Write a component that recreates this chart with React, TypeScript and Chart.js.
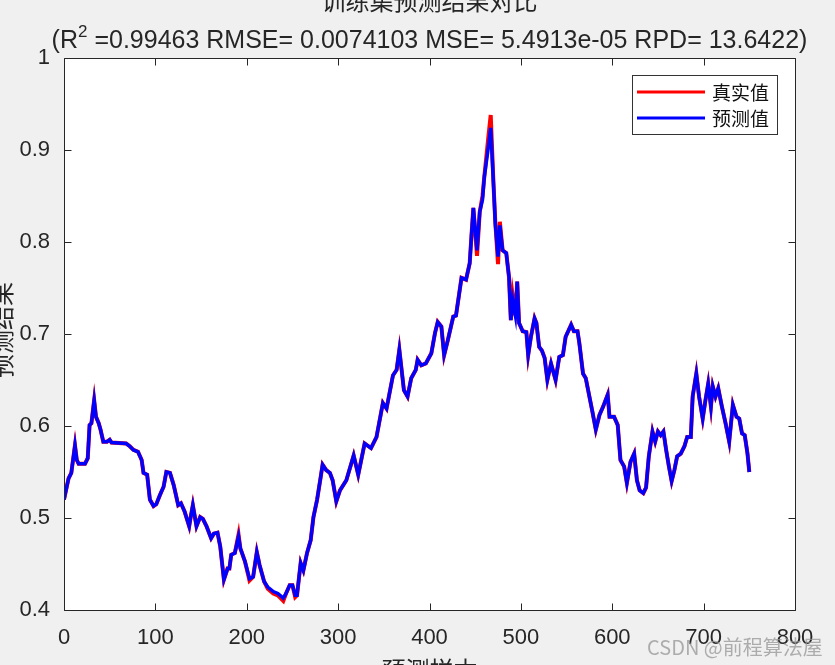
import React, { useEffect, useRef } from "react";
import { Chart, registerables } from "chart.js";

Chart.register(...registerables);

// ---- data ----
const sampleIndex = [
  0, 5, 8, 12, 14, 16, 23, 26, 28, 30, 33, 35, 38, 40, 43, 47, 50, 52, 68, 72,
  76, 81, 85, 87, 91, 94, 98, 101, 105, 109, 112, 116, 120, 125, 128, 132, 137, 139, 141, 145,
  149, 152, 156, 161, 164, 168, 171, 175, 179, 181, 183, 187, 191, 193, 198, 203, 207, 211, 214, 219,
  223, 229, 234, 240, 243, 247, 250, 253, 255, 259, 262, 266, 270, 273, 277, 281, 283, 287, 291, 294,
  298, 302, 309, 317, 322, 329, 336, 342, 349, 353, 360, 364, 367, 372, 376, 380, 385, 387, 391, 396,
  402, 406, 409, 413, 416, 420, 426, 429, 435, 440, 444, 446, 448, 452, 455, 458, 460, 464, 467, 470,
  472, 475, 477, 480, 484, 487, 489, 491, 494, 496, 498, 502, 506, 508, 511, 515, 517, 520, 523, 526,
  529, 533, 538, 542, 546, 549, 555, 558, 562, 564, 568, 571, 575, 578, 582, 586, 590, 595, 597, 602,
  606, 609, 613, 616, 620, 624, 627, 630, 634, 637, 640, 644, 647, 650, 653, 656, 659, 662, 665, 668,
  671, 675, 679, 682, 686, 688, 692, 695, 699, 702, 705, 708, 710, 713, 716, 720, 724, 728, 732, 736,
  739, 742, 745, 748, 750,
];

const predictedValues = [
  0.520, 0.543, 0.549, 0.579, 0.563, 0.559, 0.559, 0.565, 0.601, 0.603, 0.628, 0.610, 0.603, 0.596, 0.583, 0.583, 0.585, 0.582, 0.581, 0.578,
  0.574, 0.572, 0.563, 0.549, 0.547, 0.520, 0.513, 0.515, 0.525, 0.534, 0.550, 0.549, 0.536, 0.514, 0.516, 0.507, 0.491, 0.503, 0.514, 0.491,
  0.501, 0.499, 0.491, 0.478, 0.483, 0.484, 0.469, 0.433, 0.445, 0.445, 0.460, 0.462, 0.480, 0.467, 0.453, 0.434, 0.436, 0.463, 0.449, 0.431,
  0.425, 0.420, 0.418, 0.413, 0.418, 0.427, 0.427, 0.416, 0.416, 0.451, 0.443, 0.462, 0.476, 0.501, 0.520, 0.545, 0.558, 0.552, 0.549, 0.541,
  0.518, 0.530, 0.541, 0.568, 0.547, 0.581, 0.576, 0.588, 0.625, 0.619, 0.655, 0.661, 0.683, 0.639, 0.632, 0.652, 0.661, 0.672, 0.666, 0.668,
  0.679, 0.701, 0.713, 0.708, 0.677, 0.693, 0.719, 0.720, 0.761, 0.759, 0.777, 0.808, 0.837, 0.791, 0.833, 0.846, 0.871, 0.900, 0.924, 0.864,
  0.820, 0.784, 0.818, 0.791, 0.788, 0.762, 0.715, 0.737, 0.720, 0.757, 0.712, 0.703, 0.702, 0.677, 0.697, 0.717, 0.712, 0.686, 0.682, 0.674,
  0.650, 0.668, 0.650, 0.675, 0.677, 0.697, 0.710, 0.703, 0.703, 0.690, 0.657, 0.652, 0.632, 0.617, 0.596, 0.612, 0.621, 0.634, 0.610, 0.610,
  0.601, 0.563, 0.556, 0.538, 0.561, 0.570, 0.541, 0.530, 0.527, 0.533, 0.567, 0.594, 0.583, 0.594, 0.590, 0.594, 0.574, 0.556, 0.540, 0.552,
  0.567, 0.570, 0.578, 0.588, 0.588, 0.632, 0.657, 0.632, 0.608, 0.628, 0.646, 0.621, 0.643, 0.632, 0.641, 0.621, 0.603, 0.583, 0.623, 0.610,
  0.608, 0.592, 0.590, 0.570, 0.550,
];

const actualValues = [
  0.520, 0.543, 0.549, 0.579, 0.563, 0.559, 0.559, 0.565, 0.601, 0.603, 0.628, 0.610, 0.603, 0.596, 0.583, 0.583, 0.585, 0.582, 0.581, 0.578,
  0.574, 0.572, 0.563, 0.549, 0.547, 0.520, 0.513, 0.515, 0.525, 0.534, 0.550, 0.549, 0.536, 0.514, 0.516, 0.507, 0.491, 0.503, 0.514, 0.491,
  0.501, 0.499, 0.491, 0.478, 0.483, 0.484, 0.469, 0.433, 0.445, 0.445, 0.460, 0.462, 0.482, 0.467, 0.453, 0.432, 0.436, 0.463, 0.449, 0.431,
  0.423, 0.418, 0.416, 0.410, 0.418, 0.427, 0.427, 0.414, 0.416, 0.451, 0.443, 0.462, 0.476, 0.501, 0.520, 0.545, 0.558, 0.552, 0.549, 0.541,
  0.518, 0.530, 0.541, 0.568, 0.547, 0.581, 0.576, 0.588, 0.625, 0.619, 0.655, 0.661, 0.683, 0.639, 0.632, 0.652, 0.661, 0.672, 0.666, 0.668,
  0.679, 0.701, 0.713, 0.708, 0.677, 0.693, 0.719, 0.720, 0.761, 0.759, 0.777, 0.808, 0.837, 0.785, 0.833, 0.850, 0.871, 0.910, 0.938, 0.864,
  0.822, 0.776, 0.822, 0.791, 0.788, 0.762, 0.715, 0.742, 0.720, 0.757, 0.712, 0.703, 0.702, 0.677, 0.697, 0.717, 0.712, 0.686, 0.682, 0.674,
  0.650, 0.668, 0.650, 0.675, 0.677, 0.697, 0.710, 0.703, 0.703, 0.690, 0.657, 0.652, 0.632, 0.617, 0.596, 0.612, 0.621, 0.634, 0.610, 0.610,
  0.601, 0.563, 0.556, 0.538, 0.561, 0.570, 0.541, 0.530, 0.527, 0.533, 0.567, 0.594, 0.583, 0.594, 0.590, 0.594, 0.574, 0.556, 0.540, 0.552,
  0.567, 0.570, 0.578, 0.588, 0.588, 0.632, 0.657, 0.632, 0.608, 0.628, 0.646, 0.621, 0.643, 0.632, 0.641, 0.621, 0.603, 0.583, 0.623, 0.610,
  0.608, 0.592, 0.590, 0.570, 0.550,
];

const xTickValues = [0, 100, 200, 300, 400, 500, 600, 700, 800];
const yTickValues = [0.4, 0.5, 0.6, 0.7, 0.8, 0.9, 1];

const seriesNames = ["真实值", "预测值"];
const seriesColors = ["rgb(255,0,0)", "rgb(0,0,255)"];
const titleLine1 = "训练集预测结果对比";
const titleLine2Parts = ["(R", "2", " =0.99463 RMSE= 0.0074103 MSE= 5.4913e-05 RPD= 13.6422)"];
const xAxisTitle = "预测样本";
const yAxisTitle = "预测结果";
const watermark = "CSDN @前程算法屋";

const W = 835;
const H = 665;
const TEXT = "#262626";
const SANS = '"Liberation Sans", Arial, sans-serif';
const CJK = '"Noto Sans CJK SC", sans-serif';

const decorPlugin = {
  id: "decor",
  beforeDraw(chart: any) {
    const { ctx, chartArea: a } = chart;
    ctx.save();
    ctx.fillStyle = "#f0f0f0";
    ctx.fillRect(0, 0, W, H);
    ctx.fillStyle = "#ffffff";
    ctx.fillRect(a.left, a.top, a.right - a.left, a.bottom - a.top);
    ctx.restore();
  },
  afterDraw(chart: any) {
    const { ctx, chartArea: a, scales } = chart;
    const xs = scales.x;
    const ys = scales.y;
    ctx.save();
    // box + inward ticks
    ctx.strokeStyle = TEXT;
    ctx.lineWidth = 1;
    const L = Math.round(a.left) + 0.5;
    const R = Math.round(a.right) + 0.5;
    const T = Math.round(a.top) + 0.5;
    const B = Math.round(a.bottom) + 0.5;
    ctx.beginPath();
    ctx.rect(L, T, R - L, B - T);
    const tl = 7;
    xTickValues.forEach((v) => {
      const px = Math.round(xs.getPixelForValue(v)) + 0.5;
      ctx.moveTo(px, B);
      ctx.lineTo(px, B - tl);
      ctx.moveTo(px, T);
      ctx.lineTo(px, T + tl);
    });
    yTickValues.forEach((v) => {
      const py = Math.round(ys.getPixelForValue(v)) + 0.5;
      ctx.moveTo(L, py);
      ctx.lineTo(L + tl, py);
      ctx.moveTo(R, py);
      ctx.lineTo(R - tl, py);
    });
    ctx.stroke();

    // legend
    const lx = 632, ly = 75, lw = 145, lh = 59;
    ctx.fillStyle = "#ffffff";
    ctx.fillRect(lx, ly, lw, lh);
    ctx.strokeStyle = "#333333";
    ctx.strokeRect(lx + 0.5, ly + 0.5, lw, lh);
    const rows = [92, 118];
    seriesNames.forEach((name, i) => {
      ctx.strokeStyle = seriesColors[i];
      ctx.lineWidth = 3;
      ctx.beginPath();
      ctx.moveTo(637, rows[i]);
      ctx.lineTo(705, rows[i]);
      ctx.stroke();
      ctx.fillStyle = "#111111";
      ctx.font = `19px ${CJK}`;
      ctx.textAlign = "left";
      ctx.textBaseline = "middle";
      ctx.fillText(name, 712, rows[i] + 1);
    });

    // titles
    const cx = (a.left + a.right) / 2;
    ctx.fillStyle = TEXT;
    ctx.textBaseline = "middle";
    ctx.textAlign = "center";
    ctx.font = `24px ${CJK}`;
    ctx.fillText(titleLine1, cx, 1);

    const bigFont = `25px ${SANS}`;
    const smallFont = `17px ${SANS}`;
    ctx.font = bigFont;
    const w0 = ctx.measureText(titleLine2Parts[0]).width;
    const w2 = ctx.measureText(titleLine2Parts[2]).width;
    ctx.font = smallFont;
    const w1 = ctx.measureText(titleLine2Parts[1]).width;
    const total = w0 + w1 + w2;
    const x0 = cx - total / 2;
    ctx.textAlign = "left";
    ctx.font = bigFont;
    ctx.fillText(titleLine2Parts[0], x0, 41);
    ctx.font = smallFont;
    ctx.fillText(titleLine2Parts[1], x0 + w0, 32);
    ctx.font = bigFont;
    ctx.fillText(titleLine2Parts[2], x0 + w0 + w1, 41);

    // axis titles
    ctx.textAlign = "center";
    ctx.font = `24px ${CJK}`;
    ctx.fillText(xAxisTitle, cx, 670);
    ctx.save();
    ctx.translate(2, (a.top + a.bottom) / 2 - 4);
    ctx.rotate(-Math.PI / 2);
    ctx.fillText(yAxisTitle, 0, 0);
    ctx.restore();

    // watermark
    ctx.font = `20px ${CJK}`;
    ctx.fillStyle = "rgba(150,150,150,0.75)";
    ctx.textAlign = "left";
    ctx.fillText(watermark, 647, 647);
    ctx.restore();
  },
};

export default function App() {
  const canvasRef = useRef<HTMLCanvasElement | null>(null);

  useEffect(() => {
    const canvas = canvasRef.current;
    if (!canvas) return;
    const toPoints = (vals: number[]) => sampleIndex.map((s, i) => ({ x: s, y: vals[i] }));
    const chart = new Chart(canvas, {
      type: "line",
      data: {
        datasets: [
          {
            label: seriesNames[0],
            data: toPoints(actualValues),
            borderColor: seriesColors[0],
            borderWidth: 4,
            pointRadius: 0,
            tension: 0,
            fill: false,
            order: 2,
          },
          {
            label: seriesNames[1],
            data: toPoints(predictedValues),
            borderColor: seriesColors[1],
            borderWidth: 3.5,
            pointRadius: 0,
            tension: 0,
            fill: false,
            order: 1,
          },
        ],
      },
      options: {
        responsive: false,
        animation: false,
        devicePixelRatio: 1,
        layout: { padding: { left: 0, right: 40, top: 58, bottom: 0 } },
        plugins: {
          legend: { display: false },
          title: { display: false },
          tooltip: { enabled: false },
        },
        scales: {
          x: {
            type: "linear",
            min: 0,
            max: 800,
            grid: { display: false },
            border: { display: false },
            ticks: {
              color: TEXT,
              font: { family: SANS, size: 22 },
              padding: 7,
              maxRotation: 0,
            },
            afterBuildTicks: (s: any) => {
              s.ticks = xTickValues.map((v) => ({ value: v }));
            },
            afterFit: (s: any) => {
              s.height = 55;
            },
          },
          y: {
            type: "linear",
            min: 0.4,
            max: 1,
            grid: { display: false },
            border: { display: false },
            ticks: {
              color: TEXT,
              font: { family: SANS, size: 22 },
              padding: 6,
              callback: (v: any) => String(Number(Number(v).toFixed(1))),
            },
            afterBuildTicks: (s: any) => {
              s.ticks = yTickValues.map((v) => ({ value: v }));
            },
            afterFit: (s: any) => {
              s.width = 64;
            },
          },
        },
      },
      plugins: [decorPlugin],
    });
    return () => chart.destroy();
  }, []);

  return (
    <div style={{ position: "fixed", left: 0, top: 0, width: W, height: H, overflow: "hidden" }}>
      <canvas ref={canvasRef} width={W} height={H} style={{ display: "block", width: W, height: H }} />
    </div>
  );
}
